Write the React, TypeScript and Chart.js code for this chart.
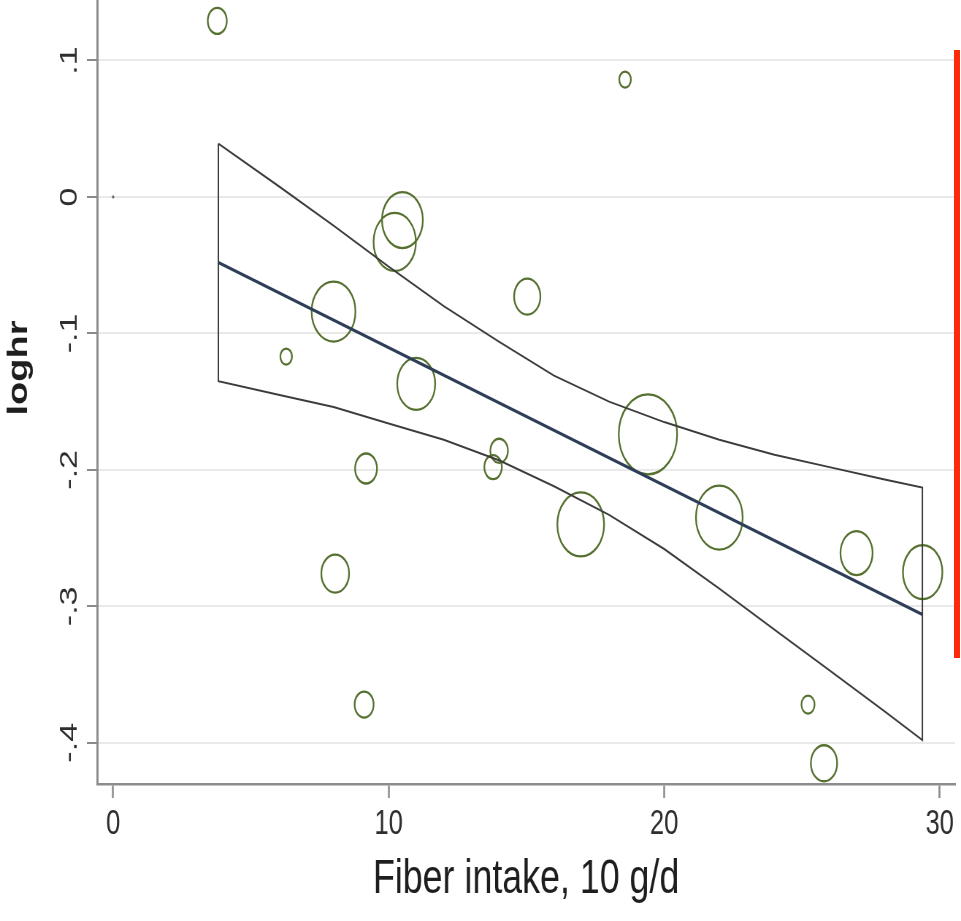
import React, { useEffect, useRef } from "react";
import { Chart, registerables } from "chart.js";

Chart.register(...registerables);

// ---- data ----
const xTicks = [0, 10, 20, 30];
const yTicks = [-0.4, -0.3, -0.2, -0.1, 0, 0.1];
const yTickLabels = ["-.4", "-.3", "-.2", "-.1", "0", ".1"];

// individual studies (bubble size = study weight)
const studyX = [3.78, 18.58, 10.5, 10.22, 8.0, 6.28, 11.0, 15.03, 19.41, 9.18, 13.79, 14.01, 16.97, 22.0, 26.98, 29.38, 8.06, 9.11, 25.22, 25.8];
const studyY = [0.129, 0.086, -0.017, -0.033, -0.084, -0.117, -0.137, -0.073, -0.174, -0.199, -0.198, -0.186, -0.24, -0.235, -0.261, -0.275, -0.276, -0.372, -0.372, -0.415];
const studyWeight = [13, 8, 28, 29, 30, 8, 26, 18, 40, 15, 12, 12, 32, 32, 22, 27, 19, 13, 9, 18];

// small marker at the origin
const originX = [0];
const originY = [0];

// fitted regression line
const fitX = [3.82, 29.37];
const fitY = [-0.048, -0.306];

// confidence band
const ciX = [3.82, 6, 8, 10, 12, 14, 16, 18, 20, 22, 24, 26, 28, 29.37];
const ciUpper = [0.039, 0.008, -0.021, -0.051, -0.08, -0.106, -0.131, -0.15, -0.165, -0.178, -0.189, -0.198, -0.207, -0.213];
const ciLower = [-0.135, -0.145, -0.154, -0.166, -0.178, -0.193, -0.212, -0.233, -0.258, -0.287, -0.317, -0.347, -0.377, -0.398];

const xTitle = "Fiber intake, 10 g/d";
const yTitle = "loghr";

// ---- layout ----
const W = 961;
const H = 921;
const SX = 0.7302; // reference is horizontally squeezed
const CW = Math.round(W / SX);
const FONT = '"Liberation Sans", Arial, Helvetica, sans-serif';

const yLabelPlugin = {
  id: "yLabelPlugin",
  afterDraw(chart: any) {
    const ctx = chart.ctx;
    const ys = chart.scales.y;
    ctx.save();
    ctx.fillStyle = "#2e2e2e";
    ctx.font = `34px ${FONT}`;
    ctx.textAlign = "center";
    ctx.textBaseline = "alphabetic";
    yTicks.forEach((v, i) => {
      const py = ys.getPixelForValue(v);
      ctx.save();
      ctx.translate(105, py);
      ctx.rotate(-Math.PI / 2);
      ctx.fillText(yTickLabels[i], 0, 0);
      ctx.restore();
    });
    ctx.fillStyle = "#1e1e1e";
    ctx.font = `bold 38px ${FONT}`;
    ctx.translate(37, 368);
    ctx.rotate(-Math.PI / 2);
    ctx.fillText(yTitle, 0, 0);
    ctx.restore();
  },
};

export default function App() {
  const ref = useRef<HTMLCanvasElement | null>(null);

  useEffect(() => {
    if (!ref.current) return;

    const bandPts = [
      ...ciX.map((x, i) => ({ x, y: ciUpper[i] })),
      ...ciX.map((x, i) => ({ x, y: ciLower[i] })).reverse(),
      { x: ciX[0], y: ciUpper[0] },
    ];

    const chart = new Chart(ref.current, {
      type: "scatter",
      data: {
        datasets: [
          {
            type: "scatter",
            data: bandPts,
            showLine: true,
            borderColor: "#3c3c3c",
            borderWidth: 2,
            pointRadius: 0,
            fill: false,
          } as any,
          {
            type: "scatter",
            data: fitX.map((x, i) => ({ x, y: fitY[i] })),
            showLine: true,
            borderColor: "#2e3d58",
            borderWidth: 3.2,
            pointRadius: 0,
            fill: false,
          } as any,
          {
            type: "bubble",
            data: studyX.map((x, i) => ({ x, y: studyY[i], r: studyWeight[i] })),
            borderColor: "#55702f",
            backgroundColor: "rgba(0,0,0,0)",
            borderWidth: 2.3,
          } as any,
          {
            type: "scatter",
            data: originX.map((x, i) => ({ x, y: originY[i] })),
            pointRadius: 1.6,
            backgroundColor: "#666666",
            borderWidth: 0,
          } as any,
        ],
      },
      options: {
        responsive: false,
        animation: false,
        devicePixelRatio: 1,
        layout: { autoPadding: false, padding: { left: 0, right: 8, top: 0, bottom: 0 } },
        plugins: { legend: { display: false }, tooltip: { enabled: false } },
        scales: {
          x: {
            type: "linear",
            min: -0.58,
            max: 30.56,
            afterBuildTicks: (s: any) => {
              s.ticks = xTicks.map((v) => ({ value: v }));
            },
            afterFit: (s: any) => {
              s.height = 137;
            },
            grid: {
              drawOnChartArea: false,
              drawTicks: true,
              tickLength: 14,
              tickColor: "#8a8a8a",
              tickWidth: 2.5,
            },
            border: { display: true, color: "#8c8c8c", width: 2.5 },
            ticks: {
              color: "#2e2e2e",
              font: { family: FONT, size: 35 },
              padding: 5,
              maxRotation: 0,
              autoSkip: false,
            },
            title: {
              display: true,
              text: xTitle,
              color: "#1e1e1e",
              font: { family: FONT, size: 49 },
              padding: { top: 0, bottom: 12 },
            },
          },
          y: {
            type: "linear",
            min: -0.4302,
            max: 0.1443,
            afterBuildTicks: (s: any) => {
              s.ticks = yTicks.map((v) => ({ value: v }));
            },
            afterFit: (s: any) => {
              s.width = 133;
            },
            grid: {
              color: "#e9e9e9",
              lineWidth: 2,
              drawTicks: true,
              tickLength: 14,
              tickColor: "#8a8a8a",
              tickWidth: 2,
            },
            border: { display: true, color: "#8c8c8c", width: 3 },
            ticks: { display: false },
          },
        },
      },
      plugins: [yLabelPlugin],
    } as any);

    return () => chart.destroy();
  }, []);

  return (
    <div
      style={{
        position: "absolute",
        left: 0,
        top: 0,
        width: W,
        height: H,
        background: "#ffffff",
        overflow: "hidden",
      }}
    >
      <canvas
        ref={ref}
        width={CW}
        height={H}
        style={{ width: `${W}px`, height: `${H}px`, display: "block" }}
      />
      <div
        style={{
          position: "absolute",
          left: 954,
          top: 50,
          width: 6,
          height: 608,
          background: "#ff2a0a",
        }}
      />
    </div>
  );
}
